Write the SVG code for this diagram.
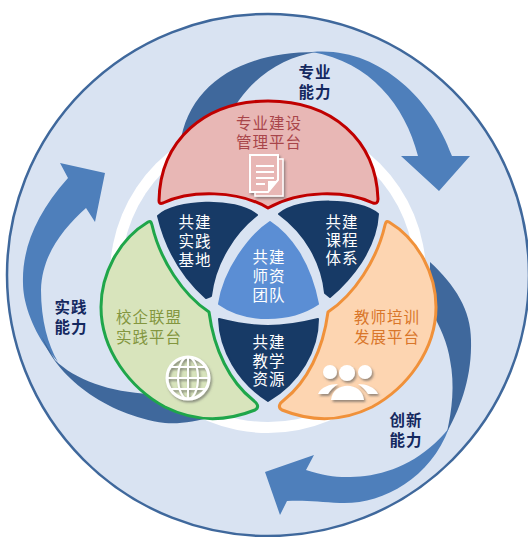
<svg xmlns="http://www.w3.org/2000/svg" width="528" height="537" viewBox="0 0 528 537">
<style>
text{font-family:"Liberation Sans","Noto Sans CJK SC",sans-serif;font-size:15.5px;text-anchor:middle;letter-spacing:1px}
.w{fill:#fff}
.cap{fill:#14285f;font-weight:700}
.d{fill:#173a66;stroke:#173a66;stroke-width:2;stroke-linejoin:round}
.l{fill:#4e7fbb}.k{fill:#3f689c}
.p{stroke-width:3;stroke-linejoin:round}
</style>
<defs><filter id="s" x="-20%" y="-20%" width="150%" height="150%"><feDropShadow dx="1.5" dy="2" stdDeviation="1.2" flood-color="#555" flood-opacity=".6"/></filter></defs>
<rect width="528" height="537" fill="#fff"/>
<g id="background">
<circle cx="268" cy="275" r="261" fill="#d9e3f2" stroke="#3f689c" stroke-width="2.5"/>
<circle cx="268" cy="275" r="158" fill="#fff"/>
<circle cx="268" cy="275" r="147" fill="#d9e3f2"/>
</g>
<g id="connectors">
<path class="k" d="M180 145C188 85 240 52 316 52C280 58 245 80 225 125Z"/>
<path class="l" d="M312 52C375 46 430 95 452 156H470L439 191L401 156H418C405 105 370 62 312 52Z"/>
<path class="k" d="M430 262C455 285 471 310 471 340C472 375 462 405 447 432C452 410 455 385 450 360C448 345 440 325 430 310Z"/>
<path class="l" d="M449 428C430 480 380 505 340 503C320 502 305 500 287 501L280 515L265 472L314 455L306 470C330 478 345 478 365 476C395 472 425 458 449 428Z"/>
<path class="l" d="M48 350C30 325 23 300 23 283C22 250 35 215 68 178L60 163L105 173L95 222L86 208C62 230 42 255 41 290C41 320 48 345 58 362Z"/>
<path class="k" d="M42 337C55 375 105 415 165 423C180 424 195 422 215 416L150 394C110 392 75 380 55 360Z"/>
</g>
<g id="node-center"><path d="M270 222C290 235 310 262 318 304C303 314 285 318 268 318C250 318 233 314 219 304C224 270 250 235 270 222Z" fill="#5b8ed4" stroke="#5b8ed4" stroke-width="2" stroke-linejoin="round"/><text class="w" x="269" y="263">共建</text><text class="w" x="269" y="282">师资</text><text class="w" x="269" y="301">团队</text></g>
<g id="node-sj"><path class="d" d="M158 216C175 200 235 197 257 215C235 232 215 262 211 296L206 298C180 275 165 245 158 216Z"/><text class="w" x="195" y="228">共建</text><text class="w" x="195" y="247">实践</text><text class="w" x="195" y="266">基地</text></g>
<g id="node-kc"><path class="d" d="M279 214C300 197 360 198 378 214C376 250 350 280 330 297L325 293C322 262 305 233 279 214Z"/><text class="w" x="342" y="228">共建</text><text class="w" x="342" y="246">课程</text><text class="w" x="342" y="264">体系</text></g>
<g id="node-jx"><path class="d" d="M219 319C235 323 250 326 268 326C285 326 302 323 318 319C318 350 300 382 268 401C238 382 220 350 219 319Z"/><text class="w" x="269" y="348">共建</text><text class="w" x="269" y="367">教学</text><text class="w" x="269" y="385">资源</text></g>
<g id="node-zy"><path class="p" d="M159 201C160 140 205 101 268 101C332 101 376 140 378 199C378 203 376 204 373 203C345 190 300 190 268 208C238 190 190 190 163 203C160 204 159 203 159 201Z" fill="#e8b7b5" stroke="#c00000"/>
<text x="269" y="129" fill="#a8454a">专业建设</text><text x="269" y="148" fill="#a8454a">管理平台</text>
<g filter="url(#s)"><path d="M255 159H283V196H255Z" fill="#e8b7b5" stroke="#fff" stroke-width="1.5"/><path d="M250 155H278V180L268 192H250Z" fill="#e8b7b5" stroke="#fff" stroke-width="2"/><path d="M268 192V181H278Z" fill="#fff"/><path d="M256 166H274M256 172H274M256 178H274M256 184H265" stroke="#fff" stroke-width="2"/></g></g>
<g id="node-xq"><path class="p" d="M148 222C118 240 101 275 101 307C101 350 130 388 165 407C195 422 225 422 255 410C260 407 257 403 253 400C230 382 214 350 209 312C183 295 160 260 152 225C151 221 150 221 148 222Z" fill="#d8e4bc" stroke="#1fa64a"/>
<text x="149" y="323" fill="#83963f">校企联盟</text><text x="149" y="343" fill="#83963f">实践平台</text>
<g filter="url(#s)" fill="none" stroke="#fff"><circle cx="188" cy="378" r="21" stroke-width="3"/><ellipse cx="188" cy="378" rx="10" ry="21" stroke-width="2"/><path d="M188 357V399M167 378H209M171 367H205M171 389H205" stroke-width="2"/></g></g>
<g id="node-js"><path class="p" d="M389 222C419 240 436 275 436 307C436 350 407 388 372 407C342 422 312 422 282 410C277 407 280 403 284 400C307 382 323 350 328 312C354 295 377 260 385 225C386 221 387 221 389 222Z" fill="#fdd5b1" stroke="#f0913a"/>
<text x="387" y="323" fill="#d9762a">教师培训</text><text x="387" y="343" fill="#d9762a">发展平台</text>
<g filter="url(#s)" fill="#fff"><circle cx="330" cy="372" r="7"/><circle cx="347" cy="373" r="8"/><circle cx="365" cy="372" r="7"/><path d="M318 394C321 387 330 384 338 384C333 387 330 391 328 394ZM378 394C375 387 366 384 358 384C363 387 366 391 368 394Z"/><path d="M331 400C333 381 362 381 364 400Z"/></g></g>
<g id="labels">
<text class="cap" x="315" y="78">专业</text><text class="cap" x="315" y="98">能力</text>
<text class="cap" x="71" y="313">实践</text><text class="cap" x="71" y="333">能力</text>
<text class="cap" x="406" y="426">创新</text><text class="cap" x="406" y="446">能力</text>
</g>
</svg>
